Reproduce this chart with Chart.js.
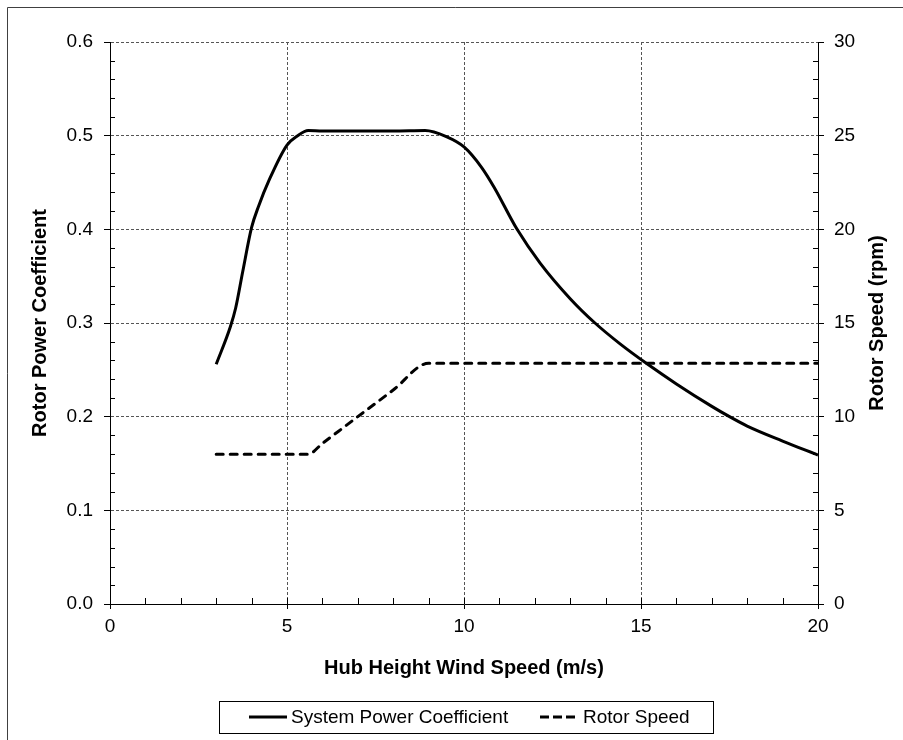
<!DOCTYPE html>
<html>
<head>
<meta charset="utf-8">
<script src="https://cdn.jsdelivr.net/npm/chart.js@4/dist/chart.umd.min.js"></script>
<style>
  html, body { margin: 0; padding: 0; background: #fff; }
  canvas { display: block; }
</style>
</head>
<body>
<canvas id="chart" width="903" height="740"></canvas>
<script>
// ── Data ──────────────────────────────────────────────────────────────────────
const cpWind = [3.0, 3.4, 3.55, 3.75, 4.0, 4.2, 4.5, 5.0, 5.3, 5.6, 6, 7, 8, 8.9, 9.5, 10.0, 10.5, 10.85, 11.5, 12.15, 13.0, 13.7, 14.4, 15.15, 16, 17, 17.5, 18, 19, 20];
const cpValues = [0.256, 0.296, 0.316, 0.355, 0.402, 0.425, 0.453, 0.490, 0.500, 0.5055, 0.505, 0.505, 0.505, 0.5055, 0.499, 0.488, 0.466, 0.445, 0.400, 0.364, 0.326, 0.300, 0.278, 0.257, 0.235, 0.211, 0.200, 0.190, 0.174, 0.159];

const rpmWind = [3, 4, 5, 5.6, 6, 7, 8, 9, 10, 12, 14, 16, 18, 20];
const rpmValues = [8.0, 8.0, 8.0, 8.0, 8.57, 10.0, 11.42, 12.85, 12.85, 12.85, 12.85, 12.85, 12.85, 12.85];

const seriesNames = ['System Power Coefficient', 'Rotor Speed'];
const axisTitles = { x: 'Hub Height Wind Speed (m/s)', y: 'Rotor Power Coefficient', y1: 'Rotor Speed (rpm)' };

const FONT = 'Liberation Sans, Arial, sans-serif';
Chart.defaults.font.family = FONT;
Chart.defaults.color = '#000';

const toPoints = (xs, ys) => xs.map((x, i) => ({ x, y: ys[i] }));

// ── Outer frame ───────────────────────────────────────────────────────────────
const frame = {
  id: 'frame',
  beforeDraw(chart) {
    const { ctx, width, height } = chart;
    ctx.save();
    ctx.fillStyle = '#fff';
    ctx.fillRect(0, 0, width, height);
    ctx.strokeStyle = '#404040';
    ctx.lineWidth = 1;
    ctx.beginPath();
    ctx.moveTo(7.5, height);
    ctx.lineTo(7.5, 7.5);
    ctx.lineTo(width, 7.5);
    ctx.stroke();
    ctx.restore();
  },
};

// ── Minor tick marks (inside the plot) ───────────────────────────────────────
const minorTicks = {
  id: 'minorTicks',
  afterDraw(chart) {
    const { ctx, chartArea: a, scales: { x, y, y1 } } = chart;
    ctx.save();
    ctx.strokeStyle = '#000';
    ctx.lineWidth = 1;
    ctx.beginPath();
    for (let v = 1; v < 20; v++) {
      const px = Math.round(x.getPixelForValue(v)) + 0.5;
      ctx.moveTo(px, a.bottom);
      ctx.lineTo(px, a.bottom - 6);
    }
    for (let i = 1; i < 30; i++) {
      if (i % 5 === 0) continue;
      const pl = Math.round(y.getPixelForValue(i * 0.02)) + 0.5;
      ctx.moveTo(a.left, pl);
      ctx.lineTo(a.left + 5, pl);
      const pr = Math.round(y1.getPixelForValue(i)) + 0.5;
      ctx.moveTo(a.right, pr);
      ctx.lineTo(a.right - 5, pr);
    }
    ctx.stroke();
    ctx.restore();
  },
};

// ── Right axis title (reads bottom-to-top like the left one) ─────────────────
const rightTitle = {
  id: 'rightTitle',
  afterDraw(chart) {
    const { ctx, chartArea: a, scales: { y1 } } = chart;
    ctx.save();
    ctx.translate(y1.right - 26, (a.top + a.bottom) / 2);
    ctx.rotate(-Math.PI / 2);
    ctx.font = 'bold 20px ' + FONT;
    ctx.fillStyle = '#000';
    ctx.textAlign = 'center';
    ctx.textBaseline = 'middle';
    ctx.fillText(axisTitles.y1, 0, 0);
    ctx.restore();
  },
};

// ── Boxed legend ─────────────────────────────────────────────────────────────
const boxLegend = {
  id: 'boxLegend',
  afterDraw(chart) {
    const { ctx } = chart;
    const cy = 717;
    ctx.save();
    ctx.strokeStyle = '#000';
    ctx.lineWidth = 1;
    ctx.strokeRect(219.5, 701.5, 494, 32);
    const slots = [{ x0: 249, x1: 287, tx: 291 }, { x0: 540, x1: 576, tx: 583 }];
    chart.data.datasets.forEach((ds, i) => {
      const s = slots[i];
      ctx.save();
      ctx.strokeStyle = ds.borderColor;
      ctx.lineWidth = ds.borderWidth;
      ctx.setLineDash(i === 1 ? [9, 4] : []);
      ctx.beginPath();
      ctx.moveTo(s.x0, cy);
      ctx.lineTo(s.x1, cy);
      ctx.stroke();
      ctx.restore();
      ctx.font = '19px ' + FONT;
      ctx.fillStyle = '#000';
      ctx.textBaseline = 'middle';
      ctx.fillText(ds.label, s.tx, cy + 1);
    });
    ctx.restore();
  },
};

const gridDash = { display: true, color: '#000', width: 1, dash: [3, 2] };

new Chart(document.getElementById('chart'), {
  type: 'line',
  data: {
    datasets: [
      {
        label: seriesNames[0],
        data: toPoints(cpWind, cpValues),
        yAxisID: 'y',
        borderColor: '#000',
        borderWidth: 3,
        pointRadius: 0,
        cubicInterpolationMode: 'monotone',
        fill: false,
      },
      {
        label: seriesNames[1],
        data: toPoints(rpmWind, rpmValues),
        yAxisID: 'y1',
        borderColor: '#000',
        borderWidth: 3,
        borderDash: [7, 7],
        borderCapStyle: 'round',
        pointRadius: 0,
        cubicInterpolationMode: 'monotone',
        fill: false,
      },
    ],
  },
  options: {
    responsive: false,
    animation: false,
    layout: { padding: { top: 42, left: 0, right: 0, bottom: 0 } },
    plugins: { legend: { display: false }, tooltip: { enabled: false } },
    scales: {
      x: {
        type: 'linear',
        min: 0, max: 20,
        afterFit(s) { s.height = 136; },
        ticks: { stepSize: 5, padding: 6, font: { size: 19 }, color: '#000' },
        grid: { color: '#555', lineWidth: 1, tickLength: 5, tickColor: '#000' },
        border: { color: '#000', width: 1, dash: [3, 2] },
        title: { display: true, text: axisTitles.x, font: { size: 20, weight: 'bold' }, color: '#000', padding: { top: 0, bottom: 60 } },
      },
      y: {
        position: 'left',
        min: 0, max: 0.6,
        afterFit(s) { s.width = 110; },
        ticks: { stepSize: 0.1, padding: 11, font: { size: 19 }, color: '#000', callback: v => v.toFixed(1) },
        grid: { color: '#555', lineWidth: 1, tickLength: 6, tickColor: '#000' },
        border: { color: '#000', width: 1, dash: [3, 2] },
        title: { display: true, text: axisTitles.y, font: { size: 20, weight: 'bold' }, color: '#000', padding: { top: 28, bottom: 0 } },
      },
      y1: {
        position: 'right',
        min: 0, max: 30,
        afterFit(s) { s.width = 85; },
        ticks: { stepSize: 5, padding: 10, font: { size: 19 }, color: '#000' },
        grid: { drawOnChartArea: false, tickLength: 6, tickColor: '#000' },
        border: { color: '#000', width: 1 },
      },
    },
  },
  plugins: [frame, minorTicks, rightTitle, boxLegend],
});
</script>
</body>
</html>
